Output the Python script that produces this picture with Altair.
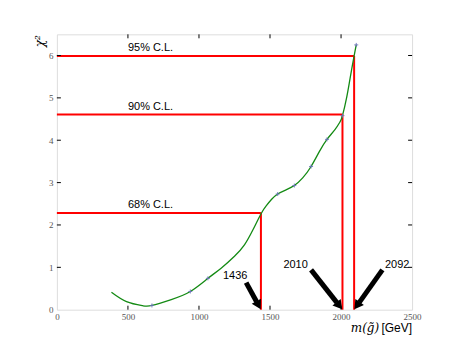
import altair as alt
import pandas as pd
import math

# curve
curve_mass = [384, 490, 604, 669, 805, 939, 1063, 1156, 1250, 1320, 1379, 1436, 1473, 1510, 1554, 1613, 1671, 1730, 1789, 1847, 1901, 1957, 1992, 2010, 2040, 2063, 2092, 2107]
curve_chi2 = [0.41, 0.19, 0.094, 0.10, 0.24, 0.43, 0.74, 0.98, 1.26, 1.53, 1.88, 2.26, 2.45, 2.60, 2.73, 2.83, 2.93, 3.11, 3.38, 3.73, 4.02, 4.25, 4.43, 4.58, 5.02, 5.45, 5.99, 6.25]

marker_mass = [669, 939, 1063, 1554, 1671, 1789, 1901, 2010, 2107]
marker_chi2 = [0.10, 0.43, 0.74, 2.73, 2.93, 3.38, 4.02, 4.58, 6.25]

cl_labels = ["68% C.L.", "90% C.L.", "95% C.L."]
cl_levels = [2.28, 4.61, 5.99]
cl_mass = [1436, 2010, 2092]
cl_text_y = [2.48, 4.79, 6.17]

arrow_label = ["1436", "2010", "2092"]
arrow_start_x = [1332, 1789, 2291]
arrow_start_y = [0.64, 0.94, 0.94]
arrow_text_x = [1255, 1680, 2395]
arrow_text_y = [0.80, 1.06, 1.06]

x_ticks = [0, 500, 1000, 1500, 2000, 2500]
y_ticks = [0, 1, 2, 3, 4, 5, 6]

W, H = 356, 276
XMAX, YMAX = 2500, 6.5
sx, sy = W / XMAX, H / YMAX

xs = alt.Scale(domain=[0, XMAX], nice=False, zero=False)
ys = alt.Scale(domain=[0, YMAX], nice=False, zero=False)

curve = pd.DataFrame({"m": curve_mass, "c": curve_chi2})
marks = pd.DataFrame({"m": marker_mass, "c": marker_chi2})

hl = pd.DataFrame({"x0": [0] * 3, "x1": cl_mass, "y": cl_levels})
vl = pd.DataFrame({"x": cl_mass, "y0": [0] * 3, "y1": cl_levels})
cltxt = pd.DataFrame({"t": cl_labels, "x": [500] * 3, "y": cl_text_y})

# arrows: shaft + head
rows = []
for lab, x0, y0, tx in zip(arrow_label, arrow_start_x, arrow_start_y, cl_mass):
    dxp = (tx - x0) * sx
    dyp = y0 * sy
    L = math.hypot(dxp, dyp)
    ux, uy = dxp / L, dyp / L
    head_len = 9
    bx = tx - ux * head_len / sx
    by = uy * head_len / sy
    hx = tx - ux * 5 / sx
    hy = uy * 5 / sy
    ang = math.degrees(math.atan2(ux, -uy)) % 360
    rows.append({"x0": x0, "y0": y0, "bx": bx, "by": by, "hx": hx, "hy": hy, "ang": ang})
arr = pd.DataFrame(rows)
atxt = pd.DataFrame({"t": arrow_label, "x": arrow_text_x, "y": arrow_text_y})

base_x_axis = alt.Axis(values=x_ticks, format="d", ticks=False, domain=False, grid=False, labelFont="Liberation Serif",
                       labelFontSize=9, labelColor="#555555", labelPadding=3, title=None,
                       labelFlush=False)
base_y_axis = alt.Axis(values=y_ticks, format="d", ticks=False, domain=False, grid=False, labelFont="Liberation Serif",
                       labelFontSize=9, labelColor="#555555", labelPadding=4, title=None)

curve_l = alt.Chart(curve).mark_line(color="#138a13", strokeWidth=1.3, interpolate="natural").encode(
    x=alt.X("m:Q", scale=xs, axis=base_x_axis),
    y=alt.Y("c:Q", scale=ys, axis=base_y_axis),
)
marks_l = alt.Chart(marks).mark_point(shape="M-1,0L1,0M0,-1L0,1", size=16, color="#6a72b8", strokeWidth=0.9,
                                      filled=False, opacity=1).encode(
    x=alt.X("m:Q", scale=xs), y=alt.Y("c:Q", scale=ys)
)
hl_l = alt.Chart(hl).mark_rule(color="#ff0000", strokeWidth=2).encode(
    x=alt.X("x0:Q", scale=xs), x2="x1:Q", y=alt.Y("y:Q", scale=ys)
)
vl_l = alt.Chart(vl).mark_rule(color="#ff0000", strokeWidth=2).encode(
    x=alt.X("x:Q", scale=xs), y=alt.Y("y0:Q", scale=ys), y2="y1:Q"
)
cltxt_l = alt.Chart(cltxt).mark_text(align="left", baseline="middle", font="Liberation Sans", fontSize=11, color="black").encode(
    x=alt.X("x:Q", scale=xs), y=alt.Y("y:Q", scale=ys), text="t:N"
)
shaft_l = alt.Chart(arr).mark_rule(color="black", strokeWidth=5).encode(
    x=alt.X("x0:Q", scale=xs), y=alt.Y("y0:Q", scale=ys), x2="bx:Q", y2="by:Q"
)
head_l = alt.Chart(arr).mark_point(shape="triangle-up", size=110, filled=True, color="black", opacity=1).encode(
    x=alt.X("hx:Q", scale=xs), y=alt.Y("hy:Q", scale=ys), angle=alt.Angle("ang:Q", scale=None)
)
atxt_l = alt.Chart(atxt).mark_text(align="center", baseline="middle", font="Liberation Sans", fontSize=11, color="black").encode(
    x=alt.X("x:Q", scale=xs), y=alt.Y("y:Q", scale=ys), text="t:N"
)

xt = pd.DataFrame({"v": x_ticks[1:-1]})
yt = pd.DataFrame({"v": y_ticks[1:]})
tick_bot = alt.Chart(xt).mark_rule(color="black", strokeWidth=1).encode(
    x=alt.X("v:Q", scale=xs), y=alt.value(H), y2=alt.value(H - 4))
tick_top = alt.Chart(xt).mark_rule(color="black", strokeWidth=1).encode(
    x=alt.X("v:Q", scale=xs), y=alt.value(0), y2=alt.value(4))
tick_left = alt.Chart(yt).mark_rule(color="black", strokeWidth=1).encode(
    y=alt.Y("v:Q", scale=ys), x=alt.value(0), x2=alt.value(4))
tick_right = alt.Chart(yt).mark_rule(color="black", strokeWidth=1).encode(
    y=alt.Y("v:Q", scale=ys), x=alt.value(W), x2=alt.value(W - 4))

ytitle = alt.Chart(pd.DataFrame({"t": ["χ²"]})).mark_text(
    font="DejaVu Serif", fontStyle="italic", fontSize=12, angle=270, color="black", align="center", baseline="middle"
).encode(x=alt.value(-17), y=alt.value(7), text="t:N")
xtitle1 = alt.Chart(pd.DataFrame({"t": ["[GeV]"]})).mark_text(
    font="Liberation Sans", fontSize=12, color="black", align="right", baseline="middle"
).encode(x=alt.value(W), y=alt.value(294), text="t:N")
xtitle2 = alt.Chart(pd.DataFrame({"t": ["m(g̃)"]})).mark_text(
    font="DejaVu Serif", fontStyle="italic", fontSize=12, color="black", align="right", baseline="middle"
).encode(x=alt.value(W - 33), y=alt.value(294), text="t:N")

chart = alt.layer(
    hl_l, vl_l, curve_l, marks_l, cltxt_l, shaft_l, head_l, atxt_l,
    tick_bot, tick_top, tick_left, tick_right, ytitle, xtitle1, xtitle2
).properties(
    width=W, height=H,
    autosize=alt.AutoSizeParams(type="none"),
    padding={"left": 49, "top": 26, "right": 40, "bottom": 30},
).configure_view(stroke="black", strokeWidth=1.2).configure(background="white")

chart.save("out.html", embed_options={"renderer": "svg", "actions": False})
